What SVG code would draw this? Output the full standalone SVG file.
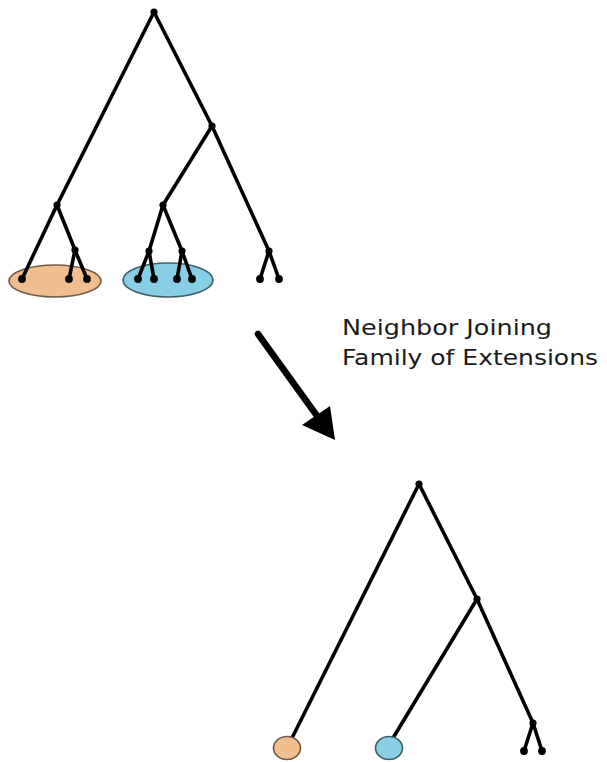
<svg xmlns="http://www.w3.org/2000/svg" width="607" height="762" viewBox="0 0 607 762">
  <style>
    .edge { stroke: #000; stroke-width: 3.6; stroke-linecap: round; fill: none; }
    .dot { fill: #000; }
    .orange { fill: #F1BF8E; stroke: #6E5A45; stroke-width: 1.6; }
    .blue { fill: #88CEE4; stroke: #3F5F6B; stroke-width: 1.6; }
    .label { font-family: "DejaVu Sans", Verdana, sans-serif; font-size: 22px; fill: #1a1a1a; }
  </style>
  <rect width="607" height="762" fill="#fff"/>

  <!-- clade highlights of the upper tree -->
  <g id="clade-orange">
    <ellipse class="orange" cx="55" cy="281" rx="46" ry="16"/>
  </g>
  <g id="clade-blue">
    <ellipse class="blue" cx="168" cy="280" rx="45" ry="17"/>
  </g>

  <!-- branches -->
  <g id="connectors">
    <!-- upper tree -->
    <line class="edge" x1="154" y1="12" x2="57" y2="205"/>
    <line class="edge" x1="154" y1="12" x2="212" y2="126"/>
    <line class="edge" x1="57" y1="205" x2="22" y2="279"/>
    <line class="edge" x1="57" y1="205" x2="75" y2="250"/>
    <line class="edge" x1="75" y1="250" x2="69" y2="279"/>
    <line class="edge" x1="75" y1="250" x2="87" y2="279"/>
    <line class="edge" x1="212" y1="126" x2="163" y2="205"/>
    <line class="edge" x1="212" y1="126" x2="269" y2="251"/>
    <line class="edge" x1="163" y1="205" x2="149" y2="251"/>
    <line class="edge" x1="163" y1="205" x2="182" y2="251"/>
    <line class="edge" x1="149" y1="251" x2="138" y2="279"/>
    <line class="edge" x1="149" y1="251" x2="154" y2="279"/>
    <line class="edge" x1="182" y1="251" x2="177" y2="279"/>
    <line class="edge" x1="182" y1="251" x2="192" y2="279"/>
    <line class="edge" x1="269" y1="251" x2="260" y2="279"/>
    <line class="edge" x1="269" y1="251" x2="279" y2="279"/>
    <!-- lower tree -->
    <line class="edge" x1="419" y1="484" x2="292" y2="738"/>
    <line class="edge" x1="419" y1="484" x2="477" y2="599"/>
    <line class="edge" x1="477" y1="599" x2="393" y2="738"/>
    <line class="edge" x1="477" y1="599" x2="533" y2="723"/>
    <line class="edge" x1="533" y1="723" x2="524" y2="751"/>
    <line class="edge" x1="533" y1="723" x2="542" y2="751"/>
  </g>

  <!-- upper tree nodes -->
  <g id="upper-nodes">
    <g id="u-root"><circle class="dot" cx="154" cy="12" r="3.6"/></g>
    <g id="u-left"><circle class="dot" cx="57" cy="205" r="3.6"/></g>
    <g id="u-right"><circle class="dot" cx="212" cy="126" r="3.6"/></g>
    <g id="u-left-sub"><circle class="dot" cx="75" cy="250" r="3.6"/></g>
    <g id="u-blue"><circle class="dot" cx="163" cy="205" r="3.6"/></g>
    <g id="u-blue-a"><circle class="dot" cx="149" cy="251" r="3.6"/></g>
    <g id="u-blue-b"><circle class="dot" cx="182" cy="251" r="3.6"/></g>
    <g id="u-pair"><circle class="dot" cx="269" cy="251" r="3.6"/></g>
    <g id="u-leaf-1"><circle class="dot" cx="22" cy="279" r="3.9"/></g>
    <g id="u-leaf-2"><circle class="dot" cx="69" cy="279" r="3.9"/></g>
    <g id="u-leaf-3"><circle class="dot" cx="87" cy="279" r="3.9"/></g>
    <g id="u-leaf-4"><circle class="dot" cx="138" cy="279" r="3.9"/></g>
    <g id="u-leaf-5"><circle class="dot" cx="154" cy="279" r="3.9"/></g>
    <g id="u-leaf-6"><circle class="dot" cx="177" cy="279" r="3.9"/></g>
    <g id="u-leaf-7"><circle class="dot" cx="192" cy="279" r="3.9"/></g>
    <g id="u-leaf-8"><circle class="dot" cx="260" cy="279" r="3.9"/></g>
    <g id="u-leaf-9"><circle class="dot" cx="279" cy="279" r="3.9"/></g>
  </g>

  <!-- transformation arrow -->
  <g id="arrow">
    <line x1="258" y1="334" x2="320" y2="420" stroke="#000" stroke-width="6.5" stroke-linecap="round"/>
    <polygon points="335,440 302,425 330,406" fill="#000"/>
  </g>

  <g id="caption">
    <text class="label" x="342" y="335" textLength="210" lengthAdjust="spacingAndGlyphs">Neighbor Joining</text>
    <text class="label" x="342" y="365" textLength="256" lengthAdjust="spacingAndGlyphs">Family of Extensions</text>
  </g>

  <!-- lower tree nodes -->
  <g id="lower-nodes">
    <g id="l-root"><circle class="dot" cx="419" cy="484" r="3.6"/></g>
    <g id="l-right"><circle class="dot" cx="477" cy="599" r="3.6"/></g>
    <g id="l-pair"><circle class="dot" cx="533" cy="723" r="3.6"/></g>
    <g id="l-leaf-a"><circle class="dot" cx="524" cy="751" r="3.9"/></g>
    <g id="l-leaf-b"><circle class="dot" cx="542" cy="751" r="3.9"/></g>
    <g id="l-orange"><ellipse class="orange" cx="287" cy="748" rx="13.5" ry="11.5"/></g>
    <g id="l-blue"><ellipse class="blue" cx="389" cy="748" rx="13.5" ry="11.5"/></g>
  </g>
</svg>
